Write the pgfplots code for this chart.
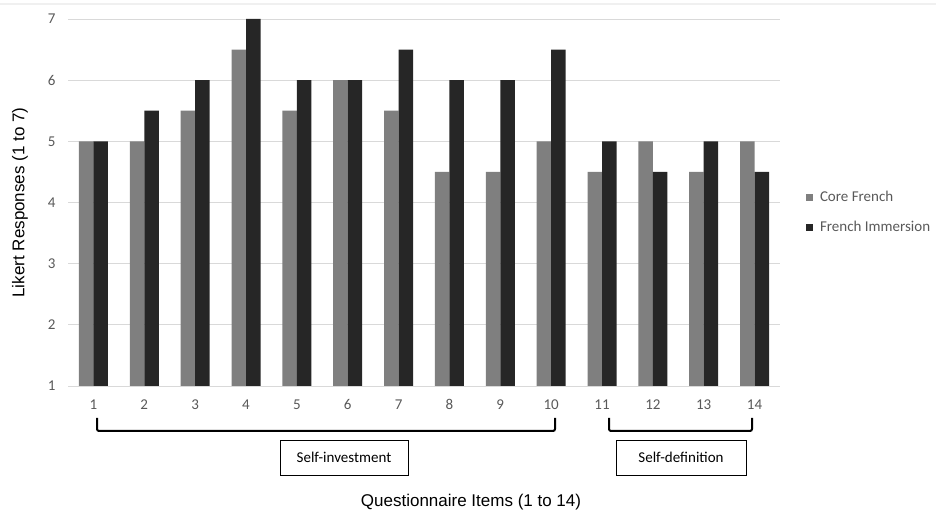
\documentclass[border=0pt]{standalone}
\usepackage{fontspec}
\setmainfont{Carlito}
\newfontfamily\arialfont{Liberation Sans}
\usepackage{pgfplots}
\usepackage{pgfplotstable}
\pgfplotsset{compat=1.18}
\definecolor{coreF}{HTML}{7F7F7F}
\definecolor{immF}{HTML}{262626}
\definecolor{gridC}{HTML}{D9D9D9}
\definecolor{tickC}{HTML}{595959}
\pgfplotstableread{
x core imm
1 5 5
2 5 5.5
3 5.5 6
4 6.5 7
5 5.5 6
6 6 6
7 5.5 6.5
8 4.5 6
9 4.5 6
10 5 6.5
11 4.5 5
12 5 4.5
13 4.5 5
14 5 4.5
}\datatable
\begin{document}
\begin{tikzpicture}[x=1pt,y=1pt]
\path[use as bounding box] (0,0) rectangle (936,510);
\draw[gray!12, line width=2pt] (0,506)--(936,506);
\begin{axis}[
 at={(68pt,124pt)}, anchor=south west,
 scale only axis, width=712pt, height=367pt,
 xmin=0.5, xmax=14.5, ymin=1, ymax=7,
 xtick={1,...,14}, ytick={1,...,7},
 ybar=0pt, bar width=14.5pt,
 axis x line*=bottom, axis y line*=left,
 x axis line style={draw=gridC,-, line width=0.8pt},
 y axis line style={draw=none},
 ymajorgrids, grid style={draw=gridC, line width=0.8pt},
 major tick length=0pt,
 tick label style={font=\fontsize{15}{18}\selectfont, text=tickC},
 /pgf/number format/assume math mode=true,
 xticklabel style={yshift=-10pt},
 yticklabel style={xshift=-9pt},
 legend style={at={(1.0365,0.4714)}, anchor=west, draw=none, fill=none,
   inner sep=0pt, outer sep=0pt, row sep=15pt,
   font=\fontsize{15}{18}\selectfont, text=tickC,
   nodes={inner sep=0pt, text height=11pt, text depth=4pt},
   /tikz/every odd column/.append style={column sep=7pt}},
 legend image code/.code={\fill[#1] (0pt,-3.5pt) rectangle (7pt,3.5pt);},
 legend cell align=left,
]
\addplot[fill=coreF, draw=none] table[x=x, y=core] {\datatable};
\addlegendentry{Core French}
\addplot[fill=immF, draw=none] table[x=x, y=imm] {\datatable};
\addlegendentry{French Immersion}
\end{axis}
% group brackets
\draw[line width=2pt, rounded corners=2pt] (97,92)--(97,79)--(555,79)--(555,92);
\draw[line width=2pt, rounded corners=2pt] (609,92)--(609,79)--(752,79)--(752,92);
\draw[line width=0.8pt] (280,70) rectangle (408,35);
\node[font=\fontsize{15}{18}\selectfont] at (344,53) {Self-investment};
\draw[line width=0.8pt] (616,70) rectangle (746,35);
\node[font=\fontsize{15}{18}\selectfont] at (681,53) {Self-definition};
% axis titles
\node[font=\arialfont\fontsize{17}{20}\selectfont] at (471,8) {Questionnaire Items (1 to 14)};
\node[font=\arialfont\fontsize{17}{20}\selectfont, rotate=90] at (20,307.5) {Likert Responses (1 to 7)};
\end{tikzpicture}
\end{document}
